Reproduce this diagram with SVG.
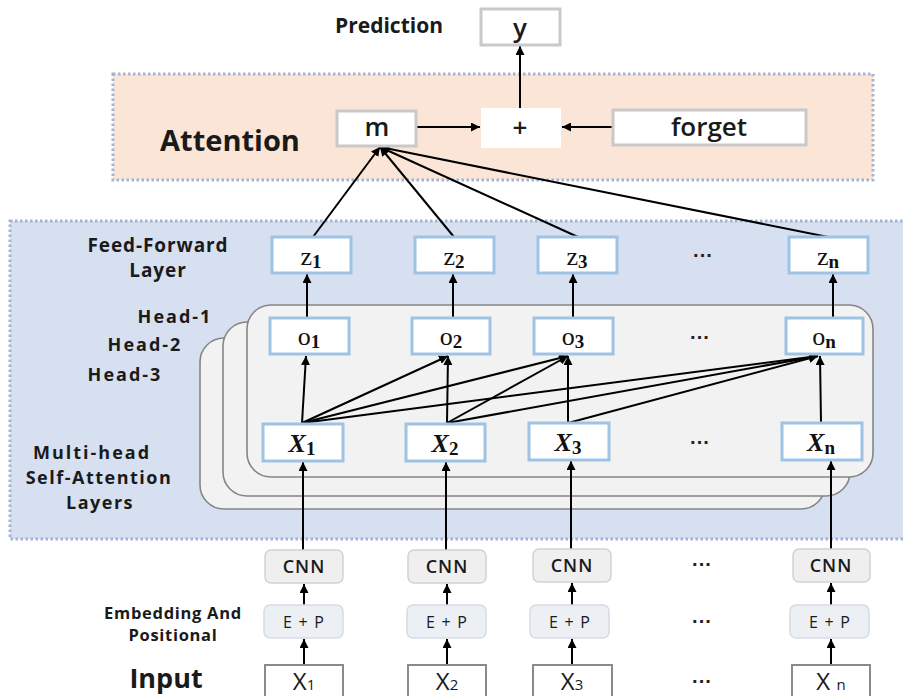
<svg xmlns="http://www.w3.org/2000/svg" width="903" height="696" viewBox="0 0 903 696">
  <defs>
    <marker id="arr" viewBox="0 0 10 10" refX="10" refY="5" markerWidth="9" markerHeight="9" markerUnits="userSpaceOnUse" orient="auto">
      <path d="M0,0 L10,5 L0,10 z" fill="#000"/>
    </marker>
    <style>
      .lbl { font-family: "Open Sans", "Liberation Sans", sans-serif; font-weight: 700; fill: #1a1a1a; text-anchor: middle; }
      .zone { stroke: #a4b4d4; stroke-width: 3; stroke-dasharray: 2.5 2.5; }
      .gbox { fill: #fff; stroke: #c9c9c9; stroke-width: 3; }
      .bbox { fill: #fff; stroke: #9fc3e4; stroke-width: 3; }
      .layer { fill: #f2f2f2; stroke: #858585; stroke-width: 1.6; }
      .cnn { fill: #efefef; stroke: #d2d2d2; stroke-width: 1.5; }
      .ep { fill: #eceff4; stroke: #d6dbe4; stroke-width: 1.5; }
      .inp { fill: #fff; stroke: #8a8a8a; stroke-width: 2; }
      .math { font-family: "Liberation Serif", "DejaVu Serif", serif; font-size: 26px; fill: #111; text-anchor: middle; }
      .sub { font-weight: bold; font-size: 19px; }
      .boxt { font-family: "Open Sans", "Liberation Sans", sans-serif; fill: #1a1a1a; text-anchor: middle; }
      .dots { font-family: "Liberation Sans", sans-serif; font-size: 20px; font-weight: bold; fill: #222; text-anchor: middle; }
      .wire { stroke: #000; stroke-width: 2; fill: none; }
    </style>
  </defs>

  <rect width="903" height="696" fill="#fff"/>

  <!-- shaded zones -->
  <rect id="attention-zone" class="zone" x="113" y="74" width="760" height="106" fill="#fbe5d6"/>
  <rect id="encoder-zone" class="zone" x="10" y="221" width="900" height="318" fill="#d7e0f1"/>

  <!-- zone labels -->
  <text class="lbl" x="389" y="33" font-size="21">Prediction</text>
  <text class="lbl" x="230" y="151" font-size="29">Attention</text>
  <text class="lbl" x="158" y="252" font-size="19" letter-spacing="0.9">Feed-Forward</text>
  <text class="lbl" x="158" y="277" font-size="19" letter-spacing="0.9">Layer</text>
  <text class="lbl" x="175" y="323" font-size="18" letter-spacing="2">Head-1</text>
  <text class="lbl" x="145" y="351" font-size="18" letter-spacing="2">Head-2</text>
  <text class="lbl" x="125" y="381" font-size="18" letter-spacing="2">Head-3</text>
  <text class="lbl" x="92" y="459" font-size="18" letter-spacing="2">Multi-head</text>
  <text class="lbl" x="99" y="484" font-size="18" letter-spacing="1.5">Self-Attention</text>
  <text class="lbl" x="100" y="509" font-size="18" letter-spacing="1.5">Layers</text>
  <text class="lbl" x="173" y="619" font-size="16.5" letter-spacing="0.7">Embedding And</text>
  <text class="lbl" x="173" y="641" font-size="16.5" letter-spacing="0.7">Positional</text>
  <text class="lbl" x="166" y="688" font-size="27">Input</text>

  <!-- stacked attention heads -->
  <g id="heads">
    <rect class="layer" x="200" y="338" width="625" height="171" rx="24"/>
    <rect class="layer" x="223" y="322" width="627" height="174" rx="24"/>
    <rect class="layer" x="247" y="305" width="626" height="172" rx="24"/>
  </g>

  <!-- connectors -->
  <g id="connectors" class="wire">
    <line x1="520" y1="108" x2="520" y2="46" marker-end="url(#arr)"/>
    <line x1="416" y1="127" x2="480" y2="127" marker-end="url(#arr)"/>
    <line x1="613" y1="127" x2="562" y2="127" marker-end="url(#arr)"/>

    <line x1="313" y1="237" x2="380" y2="147" marker-end="url(#arr)"/>
    <line x1="454" y1="237" x2="380" y2="147" marker-end="url(#arr)"/>
    <line x1="578" y1="237" x2="380" y2="147" marker-end="url(#arr)"/>
    <line x1="828" y1="237" x2="380" y2="147" marker-end="url(#arr)"/>

    <line x1="307" y1="317" x2="307" y2="274" marker-end="url(#arr)"/>
    <line x1="453" y1="317" x2="453" y2="274" marker-end="url(#arr)"/>
    <line x1="573" y1="317" x2="573" y2="274" marker-end="url(#arr)"/>
    <line x1="833" y1="317" x2="833" y2="274" marker-end="url(#arr)"/>

    <line x1="302" y1="423" x2="306" y2="356" marker-end="url(#arr)"/>
    <line x1="302" y1="423" x2="448" y2="356" marker-end="url(#arr)"/>
    <line x1="302" y1="423" x2="568" y2="356" marker-end="url(#arr)"/>
    <line x1="302" y1="423" x2="818" y2="356" marker-end="url(#arr)"/>
    <line x1="447" y1="423" x2="448" y2="356" marker-end="url(#arr)"/>
    <line x1="447" y1="423" x2="568" y2="356" marker-end="url(#arr)"/>
    <line x1="447" y1="423" x2="818" y2="356" marker-end="url(#arr)"/>
    <line x1="568" y1="423" x2="568" y2="356" marker-end="url(#arr)"/>
    <line x1="568" y1="423" x2="818" y2="356" marker-end="url(#arr)"/>
    <line x1="821" y1="423" x2="820" y2="356" marker-end="url(#arr)"/>

    <line x1="303" y1="550" x2="303" y2="462" marker-end="url(#arr)"/>
    <line x1="446" y1="550" x2="446" y2="462" marker-end="url(#arr)"/>
    <line x1="571" y1="549" x2="571" y2="461" marker-end="url(#arr)"/>
    <line x1="831" y1="549" x2="831" y2="461" marker-end="url(#arr)"/>

    <line x1="304" y1="605" x2="304" y2="584" marker-end="url(#arr)"/>
    <line x1="447" y1="605" x2="447" y2="584" marker-end="url(#arr)"/>
    <line x1="572" y1="605" x2="572" y2="583" marker-end="url(#arr)"/>
    <line x1="831" y1="605" x2="831" y2="583" marker-end="url(#arr)"/>

    <line x1="304" y1="665" x2="304" y2="639" marker-end="url(#arr)"/>
    <line x1="447" y1="665" x2="447" y2="639" marker-end="url(#arr)"/>
    <line x1="572" y1="665" x2="572" y2="639" marker-end="url(#arr)"/>
    <line x1="831" y1="665" x2="831" y2="639" marker-end="url(#arr)"/>
  </g>

  <!-- prediction / attention nodes -->
  <g id="node-y"><rect class="gbox" x="481" y="9" width="79" height="36"/><text class="boxt" x="520" y="37" font-size="26" font-weight="600">y</text></g>
  <g id="node-m"><rect class="gbox" x="337" y="111" width="79" height="35"/><text class="boxt" x="377" y="136" font-size="26" font-weight="600">m</text></g>
  <g id="node-plus"><rect x="481" y="108" width="80" height="40" fill="#fff"/><text class="boxt" x="520" y="137" font-size="26" font-weight="600">+</text></g>
  <g id="node-forget"><rect class="gbox" x="613" y="110" width="193" height="35"/><text class="boxt" x="709" y="136" font-size="26" font-weight="600">forget</text></g>

  <!-- feed-forward outputs -->
  <g id="node-z1"><rect class="bbox" x="272" y="237" width="79" height="36"/><text class="math" x="311" y="265">z<tspan class="sub" dy="3">1</tspan></text></g>
  <g id="node-z2"><rect class="bbox" x="415" y="237" width="79" height="36"/><text class="math" x="454" y="265">z<tspan class="sub" dy="3">2</tspan></text></g>
  <g id="node-z3"><rect class="bbox" x="538" y="237" width="79" height="36"/><text class="math" x="577" y="265">z<tspan class="sub" dy="3">3</tspan></text></g>
  <g id="node-zn"><rect class="bbox" x="789" y="237" width="79" height="36"/><text class="math" x="828" y="265">z<tspan class="sub" font-weight="normal" dy="3">n</tspan></text></g>
  <text class="dots" x="703" y="262">···</text>

  <!-- attention head outputs -->
  <g id="node-o1"><rect class="bbox" x="270" y="318" width="79" height="36"/><text class="math" x="309" y="345">o<tspan class="sub" dy="3">1</tspan></text></g>
  <g id="node-o2"><rect class="bbox" x="412" y="318" width="78" height="36"/><text class="math" x="451" y="345">o<tspan class="sub" dy="3">2</tspan></text></g>
  <g id="node-o3"><rect class="bbox" x="534" y="318" width="79" height="36"/><text class="math" x="573" y="345">o<tspan class="sub" dy="3">3</tspan></text></g>
  <g id="node-on"><rect class="bbox" x="786" y="318" width="77" height="36"/><text class="math" x="824" y="345">o<tspan class="sub" font-weight="normal" dy="3">n</tspan></text></g>
  <text class="dots" x="700" y="344">···</text>

  <!-- encoded tokens -->
  <g id="node-x1"><rect class="bbox" x="263" y="424" width="80" height="37"/><text class="math" x="302" y="452" font-weight="bold" font-style="italic" font-size="27">X<tspan class="sub" font-style="normal" dy="3">1</tspan></text></g>
  <g id="node-x2"><rect class="bbox" x="406" y="424" width="79" height="37"/><text class="math" x="445" y="452" font-weight="bold" font-style="italic" font-size="27">X<tspan class="sub" font-style="normal" dy="3">2</tspan></text></g>
  <g id="node-x3"><rect class="bbox" x="529" y="423" width="80" height="37"/><text class="math" x="568" y="451" font-weight="bold" font-style="italic" font-size="27">X<tspan class="sub" font-style="normal" dy="3">3</tspan></text></g>
  <g id="node-xn"><rect class="bbox" x="782" y="423" width="80" height="37"/><text class="math" x="821" y="451" font-weight="bold" font-style="italic" font-size="27">X<tspan class="sub" font-style="normal" font-weight="normal" dy="3">n</tspan></text></g>
  <text class="dots" x="700" y="449">···</text>

  <!-- CNN blocks -->
  <g id="node-cnn1"><rect class="cnn" x="265" y="550" width="78" height="33" rx="6"/><text class="boxt" x="304" y="573" font-size="18" font-weight="600" letter-spacing="1">CNN</text></g>
  <g id="node-cnn2"><rect class="cnn" x="408" y="550" width="78" height="33" rx="6"/><text class="boxt" x="447" y="573" font-size="18" font-weight="600" letter-spacing="1">CNN</text></g>
  <g id="node-cnn3"><rect class="cnn" x="533" y="549" width="78" height="33" rx="6"/><text class="boxt" x="572" y="572" font-size="18" font-weight="600" letter-spacing="1">CNN</text></g>
  <g id="node-cnnn"><rect class="cnn" x="793" y="549" width="77" height="33" rx="6"/><text class="boxt" x="831" y="572" font-size="18" font-weight="600" letter-spacing="1">CNN</text></g>
  <text class="dots" x="702" y="571">···</text>

  <!-- embedding + positional -->
  <g id="node-ep1"><rect class="ep" x="264" y="605" width="79" height="33" rx="6"/><text class="boxt" x="304" y="628" font-size="16" letter-spacing="1.2">E + P</text></g>
  <g id="node-ep2"><rect class="ep" x="407" y="605" width="79" height="33" rx="6"/><text class="boxt" x="447" y="628" font-size="16" letter-spacing="1.2">E + P</text></g>
  <g id="node-ep3"><rect class="ep" x="530" y="605" width="79" height="33" rx="6"/><text class="boxt" x="570" y="628" font-size="16" letter-spacing="1.2">E + P</text></g>
  <g id="node-epn"><rect class="ep" x="790" y="605" width="79" height="33" rx="6"/><text class="boxt" x="830" y="628" font-size="16" letter-spacing="1.2">E + P</text></g>
  <text class="dots" x="702" y="628">···</text>

  <!-- input tokens -->
  <g id="node-in1"><rect class="inp" x="265" y="665" width="78" height="40"/><text class="boxt" x="304" y="690" font-size="24">X<tspan font-size="15">1</tspan></text></g>
  <g id="node-in2"><rect class="inp" x="408" y="665" width="78" height="40"/><text class="boxt" x="447" y="690" font-size="24">X<tspan font-size="15">2</tspan></text></g>
  <g id="node-in3"><rect class="inp" x="533" y="665" width="79" height="40"/><text class="boxt" x="572" y="690" font-size="24">X<tspan font-size="15">3</tspan></text></g>
  <g id="node-inn"><rect class="inp" x="792" y="665" width="78" height="40"/><text class="boxt" x="831" y="690" font-size="24">X <tspan font-size="15">n</tspan></text></g>
  <text class="dots" x="702" y="688">···</text>
</svg>
